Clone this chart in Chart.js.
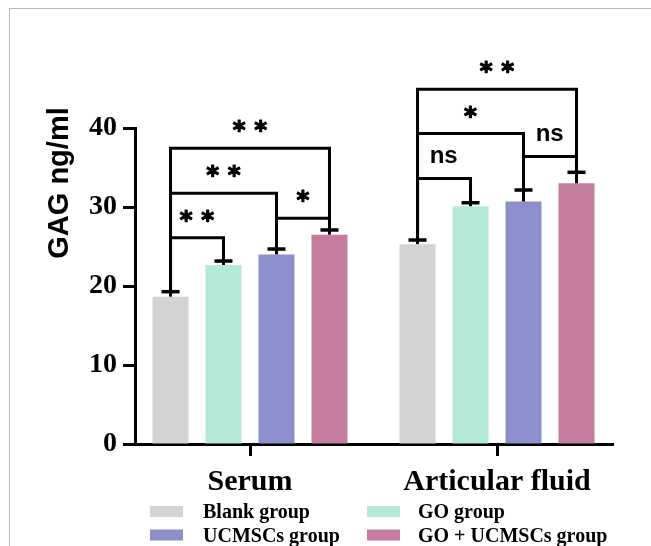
<!DOCTYPE html>
<html>
<head>
<meta charset="utf-8">
<title>GAG ng/ml</title>
<script src="https://cdn.jsdelivr.net/npm/chart.js@4.4.1/dist/chart.umd.min.js"></script>
<style>
  html, body { margin: 0; padding: 0; background: #fff; }
  #wrap { position: relative; width: 651px; height: 546px; overflow: hidden; }
  #frame { position: absolute; left: 9px; top: 8px; right: -2px; bottom: -2px;
           border-top: 1px solid #b9b9b9; border-left: 1px solid #b9b9b9; }
  #chart { position: absolute; left: 0; top: 0; }
</style>
</head>
<body>
<div id="wrap">
  <div id="frame"></div>
  <canvas id="chart" width="651" height="546"></canvas>
</div>
<script>
const categories = ['Serum', 'Articular fluid'];
const groupNames = ['Blank group', 'GO group', 'UCMSCs group', 'GO + UCMSCs group'];
const groupColors = ['#d3d3d3', '#b4e9d6', '#8b90cd', '#c47d9f'];

// mean GAG (ng/ml), one value per category
const blankMean = [18.65, 25.3];
const goMean = [22.65, 30.1];
const ucmscMean = [24.0, 30.7];
const goUcmscMean = [26.5, 33.0];

// upper error (SD)
const blankErr = [0.63, 0.52];
const goErr = [0.51, 0.44];
const ucmscErr = [0.68, 1.45];
const goUcmscErr = [0.59, 1.39];

const yTicks = [0, 10, 20, 30, 40];

// significance brackets: category, first bar, second bar, bracket height (ng/ml), mark
const sigCategory = [0, 0, 0, 0, 1, 1, 1, 1];
const sigFrom = [0, 0, 2, 0, 0, 0, 2, 0];
const sigTo = [1, 2, 3, 3, 1, 2, 3, 3];
const sigLevel = [26.1, 31.73, 28.57, 37.43, 33.6, 39.3, 36.4, 44.9];
const sigMark = ['**', '**', '*', '**', 'ns', '*', 'ns', '**'];

const means = [blankMean, goMean, ucmscMean, goUcmscMean];
const errs = [blankErr, goErr, ucmscErr, goUcmscErr];

const SERIF = '"Liberation Serif", "Times New Roman", serif';
const SANS = '"Liberation Sans", Arial, sans-serif';
const STAR_FONT = '"DejaVu Sans", sans-serif';

function capPixel(chart, bar, cat) {
  return chart.scales.y.getPixelForValue(means[bar][cat] + errs[bar][cat]);
}

// draw text so that its ink is centred on (cx, cy)
function inkText(ctx, text, cx, cy, bolden) {
  ctx.textAlign = 'left';
  ctx.textBaseline = 'alphabetic';
  const m = ctx.measureText(text);
  const x = cx - (m.actualBoundingBoxRight - m.actualBoundingBoxLeft) / 2;
  const y = cy + (m.actualBoundingBoxAscent - m.actualBoundingBoxDescent) / 2;
  ctx.fillText(text, x, y);
  if (bolden) {
    ctx.lineWidth = bolden;
    ctx.lineJoin = 'round';
    ctx.strokeText(text, x, y);
  }
}

const errorBars = {
  id: 'errorBars',
  afterDatasetsDraw(chart) {
    const ctx = chart.ctx;
    ctx.save();
    ctx.strokeStyle = '#000';
    chart.data.datasets.forEach((ds, i) => {
      chart.getDatasetMeta(i).data.forEach((bar, j) => {
        const top = capPixel(chart, i, j);
        ctx.lineWidth = 3;
        ctx.beginPath();
        ctx.moveTo(bar.x, bar.y);
        ctx.lineTo(bar.x, top);
        ctx.stroke();
        ctx.lineWidth = 3.5;
        ctx.beginPath();
        ctx.moveTo(bar.x - 9, top);
        ctx.lineTo(bar.x + 9, top);
        ctx.stroke();
      });
    });
    ctx.restore();
  }
};

const sigBrackets = {
  id: 'sigBrackets',
  afterDatasetsDraw(chart) {
    const ctx = chart.ctx;
    const y = chart.scales.y;
    ctx.save();
    ctx.strokeStyle = '#000';
    ctx.fillStyle = '#000';

    // size the asterisk so its ink is about 11.5px tall
    ctx.font = 'bold 100px ' + STAR_FONT;
    const sm = ctx.measureText('*');
    const starSize = 100 * 11.5 / (sm.actualBoundingBoxAscent + sm.actualBoundingBoxDescent);

    sigMark.forEach((mark, k) => {
      const cat = sigCategory[k];
      const x1 = chart.getDatasetMeta(sigFrom[k]).data[cat].x;
      const x2 = chart.getDatasetMeta(sigTo[k]).data[cat].x;
      const yl = y.getPixelForValue(sigLevel[k]);
      ctx.lineWidth = 3;
      ctx.lineJoin = 'miter';
      ctx.beginPath();
      ctx.moveTo(x1, capPixel(chart, sigFrom[k], cat));
      ctx.lineTo(x1, yl);
      ctx.lineTo(x2, yl);
      ctx.lineTo(x2, capPixel(chart, sigTo[k], cat));
      ctx.stroke();

      const cx = (x1 + x2) / 2;
      const cy = yl - 22;
      if (mark === 'ns') {
        ctx.font = 'bold 24px ' + SANS;
        inkText(ctx, mark, cx, cy, 0);
      } else {
        ctx.font = 'bold ' + starSize.toFixed(1) + 'px ' + STAR_FONT;
        const n = mark.length;
        for (let c = 0; c < n; c++) {
          inkText(ctx, mark[c], cx + (c - (n - 1) / 2) * 21.5, cy, 1.2);
        }
      }
    });
    ctx.restore();
  }
};

const extras = {
  id: 'extras',
  afterDraw(chart) {
    const ctx = chart.ctx;
    ctx.save();
    // y axis title
    ctx.translate(68, 183);
    ctx.rotate(-Math.PI / 2);
    ctx.font = 'bold 29px ' + SANS;
    ctx.fillStyle = '#000';
    ctx.textAlign = 'center';
    ctx.textBaseline = 'alphabetic';
    ctx.fillText('GAG ng/ml', 0, 0);
    ctx.restore();

    // legend, two columns
    ctx.save();
    ctx.font = 'bold 20px ' + SERIF;
    ctx.textAlign = 'left';
    ctx.textBaseline = 'alphabetic';
    const colSwatch = [150, 367];
    const colText = [203, 418];
    const rowY = [511.5, 535];
    chart.data.datasets.forEach((ds, i) => {
      const col = i % 2, row = Math.floor(i / 2);
      ctx.fillStyle = ds.backgroundColor;
      ctx.fillRect(colSwatch[col], rowY[row] - 5.5, 33, 11);
      ctx.fillStyle = '#000';
      ctx.fillText(ds.label, colText[col], rowY[row] + 6.6);
    });
    ctx.restore();
  }
};

const datasets = groupNames.map((name, i) => ({
  label: name,
  data: categories.map((c, j) => ({ x: j, y: means[i][j] })),
  backgroundColor: groupColors[i],
  borderWidth: 0,
  categoryPercentage: 0.858,
  barPercentage: 0.68
}));

new Chart(document.getElementById('chart'), {
  type: 'bar',
  data: { datasets },
  options: {
    responsive: false,
    animation: false,
    layout: { padding: { left: 0, right: 38, top: 128, bottom: 0 } },
    plugins: { legend: { display: false }, tooltip: { enabled: false } },
    scales: {
      x: {
        type: 'linear',
        min: -0.4656,
        max: 1.4696,
        offset: false,
        afterBuildTicks: (s) => { s.ticks = categories.map((c, j) => ({ value: j })); },
        afterFit: (s) => { s.height = 102; },
        ticks: {
          callback: (v) => categories[v],
          color: '#000',
          padding: 8,
          maxRotation: 0,
          autoSkip: false,
          font: { family: SERIF, weight: 'bold', size: 30 }
        },
        grid: {
          offset: false,
          drawOnChartArea: false,
          tickLength: 12,
          tickWidth: 3,
          tickColor: '#000'
        },
        border: { display: true, color: '#000', width: 3 }
      },
      y: {
        min: 0,
        max: 40,
        afterBuildTicks: (s) => { s.ticks = yTicks.map(v => ({ value: v })); },
        afterFit: (s) => { s.width = 135; },
        ticks: {
          color: '#000',
          padding: 6,
          font: { family: SERIF, weight: 'bold', size: 28 }
        },
        grid: {
          drawOnChartArea: false,
          tickLength: 12,
          tickWidth: 3,
          tickColor: '#000'
        },
        border: { display: true, color: '#000', width: 3 }
      }
    }
  },
  plugins: [errorBars, sigBrackets, extras]
});
</script>
</body>
</html>
